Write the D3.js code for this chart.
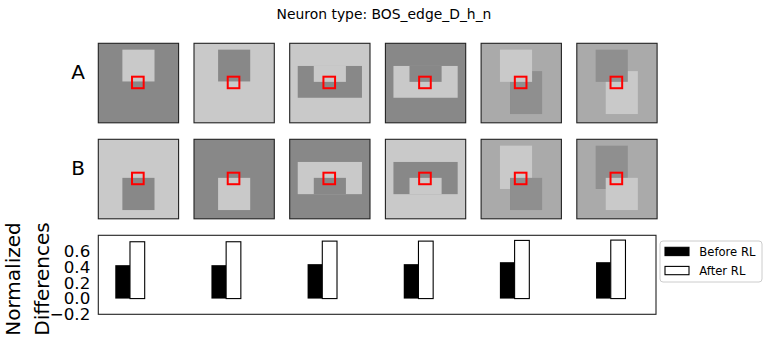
<!DOCTYPE html>
<html>
<head>
<meta charset="utf-8">
<script src="https://cdn.jsdelivr.net/npm/d3@7"></script>
<style>
  body { margin: 0; background: #fff; }
  text { font-family: "DejaVu Sans", sans-serif; }
</style>
</head>
<body>
<div id="chart"></div>
<script>
// stimulus images, shapes in image units (0..100), tone names
var rowLabels = ["A", "B"];
var stimuliA = [
  { bg: "dark",  shapes: [[30, 8, 70, 48, "light"]] },
  { bg: "light", shapes: [[30, 8, 70, 48, "dark"]] },
  { bg: "light", shapes: [[10, 28.5, 90, 68.5, "dark"], [30, 28.5, 70, 48.5, "light"]] },
  { bg: "dark",  shapes: [[10, 28.5, 90, 68.5, "light"], [30, 28.5, 70, 48.5, "dark"]] },
  { bg: "mid",   shapes: [[36, 35, 76, 89, "dim"], [23.5, 8, 63.5, 48.5, "light"]] },
  { bg: "mid",   shapes: [[36, 35, 76, 89, "light"], [23.5, 8, 63.5, 48.5, "dim"]] }
];
var stimuliB = [
  { bg: "light", shapes: [[30, 48.5, 70, 89, "dark"]] },
  { bg: "dark",  shapes: [[30, 48.5, 70, 89, "light"]] },
  { bg: "dark",  shapes: [[10, 28.5, 90, 69, "light"], [30, 48.5, 70, 69, "dark"]] },
  { bg: "light", shapes: [[10, 28.5, 90, 69, "dark"], [30, 48.5, 70, 69, "light"]] },
  { bg: "mid",   shapes: [[23.5, 8, 63.5, 62.5, "light"], [36, 48.5, 76, 89, "dim"]] },
  { bg: "mid",   shapes: [[23.5, 8, 63.5, 62.5, "dim"], [36, 48.5, 76, 89, "light"]] }
];
var receptiveField = [42, 42, 56.5, 56.5];

var conditions = ["Before RL", "After RL"];
var beforeRL = [0.425, 0.425, 0.438, 0.438, 0.463, 0.463];
var afterRL = [0.723, 0.723, 0.731, 0.731, 0.740, 0.744];
var yTicks = [-0.2, 0.0, 0.2, 0.4, 0.6];

var W = 768, H = 342;

var svg = d3.select("#chart")
    .append("svg")
    .attr("width", W)
    .attr("height", H);

var tone = d3.scaleOrdinal()
    .domain(["dark", "light", "mid", "dim"])
    .range(["#888888", "#c9c9c9", "#aaaaaa", "#8f8f8f"]);

//Title
svg.append("text")
    .attr("x", W / 2)
    .attr("y", 19)
    .attr("text-anchor", "middle")
    .style("font-size", "13.9px")
    .text("Neuron type: BOS_edge_D_h_n");

// panel columns
var col = d3.scaleBand()
    .domain(d3.range(6))
    .range([98.3, 657.1])
    .paddingInner(0.161);

var rowTop = d3.scaleOrdinal().domain(rowLabels).range([43.3, 139.3]);
var panelH = 79.5;
var ix = d3.scaleLinear().domain([0, 100]).range([0, col.bandwidth()]);
var iy = d3.scaleLinear().domain([0, 100]).range([0, panelH]);

[stimuliA, stimuliB].forEach(function (stims, r) {
    var label = rowLabels[r];
    svg.append("text")
        .attr("x", 78)
        .attr("y", rowTop(label) + 36)
        .attr("text-anchor", "middle")
        .style("font-size", "20px")
        .text(label);

    var panels = svg.selectAll(null)
        .data(stims)
        .enter()
        .append("g")
        .attr("transform", function (d, i) {
            return "translate(" + col(i) + "," + rowTop(label) + ")";
        });

    panels.append("rect")
        .attr("width", ix(100))
        .attr("height", iy(100))
        .attr("fill", function (d) { return tone(d.bg); });

    panels.selectAll(".shape")
        .data(function (d) { return d.shapes; })
        .enter()
        .append("rect")
        .attr("x", function (s) { return ix(s[0]); })
        .attr("y", function (s) { return iy(s[1]); })
        .attr("width", function (s) { return ix(s[2]) - ix(s[0]); })
        .attr("height", function (s) { return iy(s[3]) - iy(s[1]); })
        .attr("fill", function (s) { return tone(s[4]); });

    panels.append("rect")
        .attr("x", ix(receptiveField[0]))
        .attr("y", iy(receptiveField[1]))
        .attr("width", ix(receptiveField[2]) - ix(receptiveField[0]))
        .attr("height", iy(receptiveField[3]) - iy(receptiveField[1]))
        .attr("fill", "none")
        .attr("stroke", "#ff0000")
        .attr("stroke-width", 2);

    panels.append("rect")
        .attr("width", ix(100))
        .attr("height", iy(100))
        .attr("fill", "none")
        .attr("stroke", "#222")
        .attr("stroke-width", 1.1);
});

// bar chart
var x = d3.scaleLinear()
    .domain([-0.253, 5.547])
    .range([98.3, 656]);
var y = d3.scaleLinear()
    .domain([-0.2, 0.805])
    .range([314.3, 235.3]);
var bw = 0.153;

var yAxis = svg.append("g")
    .attr("transform", "translate(98.3,0)")
    .call(d3.axisLeft(y).tickValues(yTicks).tickFormat(d3.format(".1f")).tickSize(0).tickPadding(8));
yAxis.select(".domain").remove();
yAxis.selectAll("text")
    .style("font-size", "16.7px")
    .style("font-family", "DejaVu Sans")
    .attr("fill", "#000");

svg.selectAll(null)
    .data(beforeRL)
    .enter()
    .append("rect")
    .attr("x", function (d, i) { return x(i - bw / 2); })
    .attr("y", function (d) { return y(d); })
    .attr("width", function (d, i) { return x(i + bw / 2) - x(i - bw / 2); })
    .attr("height", function (d) { return y(0) - y(d); })
    .attr("fill", "#000");

svg.selectAll(null)
    .data(afterRL)
    .enter()
    .append("rect")
    .attr("x", function (d, i) { return x(i + bw / 2); })
    .attr("y", function (d) { return y(d); })
    .attr("width", function (d, i) { return x(i + 1.5 * bw) - x(i + bw / 2); })
    .attr("height", function (d) { return y(0) - y(d); })
    .attr("fill", "#fff")
    .attr("stroke", "#000")
    .attr("stroke-width", 1.1);

// frame
svg.append("rect")
    .attr("x", x.range()[0])
    .attr("y", y.range()[1])
    .attr("width", x.range()[1] - x.range()[0])
    .attr("height", y.range()[0] - y.range()[1])
    .attr("fill", "none")
    .attr("stroke", "#222")
    .attr("stroke-width", 1.1);

//Y Axis Label
var yl = svg.append("text")
    .attr("transform", "translate(0,279) rotate(-90)")
    .attr("text-anchor", "middle")
    .style("font-size", "20px");
yl.append("tspan").attr("x", 0).attr("y", 20).text("Normalized");
yl.append("tspan").attr("x", 0).attr("y", 49).text("Differences");

// legend
var legend = svg.append("g").attr("transform", "translate(660,241)");
legend.append("rect")
    .attr("width", 102)
    .attr("height", 41)
    .attr("rx", 3)
    .attr("fill", "#fff")
    .attr("stroke", "#cccccc")
    .attr("stroke-width", 1);

var items = legend.selectAll(null)
    .data(conditions)
    .enter()
    .append("g")
    .attr("transform", function (d, i) { return "translate(5," + (6.3 + i * 19.1) + ")"; });
items.append("rect")
    .attr("width", 24)
    .attr("height", 8.3)
    .attr("fill", function (d, i) { return i === 0 ? "#000" : "#fff"; })
    .attr("stroke", "#000")
    .attr("stroke-width", 1.1);
items.append("text")
    .attr("x", 34.3)
    .attr("y", 4.2)
    .attr("dominant-baseline", "central")
    .style("font-size", "11.6px")
    .text(function (d) { return d; });
</script>
</body>
</html>
